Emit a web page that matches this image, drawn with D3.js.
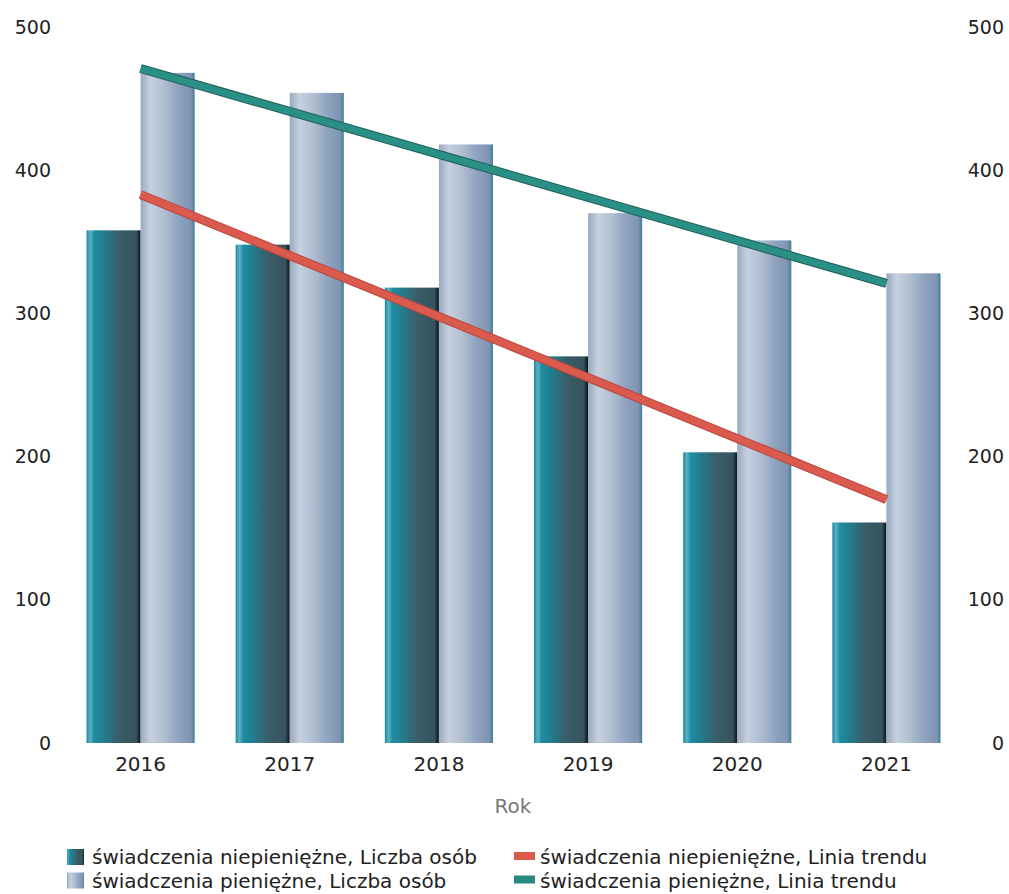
<!DOCTYPE html>
<html>
<head>
<meta charset="utf-8">
<script src="https://cdn.jsdelivr.net/npm/d3@7"></script>
<style>
  html, body { margin: 0; padding: 0; background: #fff; }
  svg { display: block; }
  text { font-family: "DejaVu Sans", sans-serif; fill: #222; }
</style>
</head>
<body>
<svg id="chart" width="1009" height="894"></svg>
<script>
// ---- data ----
const years = ["2016", "2017", "2018", "2019", "2020", "2021"];
const niepieniezne = [358, 348, 318, 270, 203, 154];   // świadczenia niepieniężne, Liczba osób
const pieniezne = [468, 454, 418, 370, 351, 328];      // świadczenia pieniężne, Liczba osób
const trendNiepieniezne = [383, 170];                   // trend at 2016 and 2021
const trendPieniezne = [471, 321];                      // trend at 2016 and 2021
const trendYears = ["2016", "2021"];
const yTicks = [0, 100, 200, 300, 400, 500];
const xTitle = "Rok";
const legendLabels = [
  "świadczenia niepieniężne, Liczba osób",
  "świadczenia pieniężne, Liczba osób",
  "świadczenia niepieniężne, Linia trendu",
  "świadczenia pieniężne, Linia trendu"
];

// ---- layout ----
const FONT = "'DejaVu Sans', sans-serif";
const svg = d3.select("#chart");
const x = d3.scaleBand().domain(years).range([66, 961]).paddingInner(0.275).paddingOuter(0.1375);
const sub = d3.scaleBand().domain(["n", "p"]).range([0, x.bandwidth()]);
const y = d3.scaleLinear().domain([0, 500]).range([743, 27]);

// gradients
const defs = svg.append("defs");
function grad(id, stops) {
  const g = defs.append("linearGradient").attr("id", id).attr("x1", "0").attr("x2", "1").attr("y1", "0").attr("y2", "0");
  stops.forEach(s => g.append("stop").attr("offset", s[0]).attr("stop-color", s[1]));
}
grad("gDark", [[0, "#168aa0"], [0.07, "#5fb0c2"], [0.14, "#1d8da2"], [0.35, "#25798a"], [0.6, "#3a5d68"], [0.92, "#35535e"], [0.96, "#1e3038"], [1, "#111"]]);
grad("gLight", [[0, "#98a9c0"], [0.18, "#c6d0de"], [0.4, "#b4c1d3"], [0.7, "#8fa3bf"], [0.93, "#7e94b3"], [1, "#3f7f9a"]]);

// bars
const g = svg.append("g");
years.forEach((yr, i) => {
  g.append("rect")
    .attr("x", x(yr) + sub("n"))
    .attr("y", y(niepieniezne[i]))
    .attr("width", sub.bandwidth())
    .attr("height", y(0) - y(niepieniezne[i]))
    .attr("fill", "url(#gDark)");
  g.append("rect")
    .attr("x", x(yr) + sub("p"))
    .attr("y", y(pieniezne[i]))
    .attr("width", sub.bandwidth())
    .attr("height", y(0) - y(pieniezne[i]))
    .attr("fill", "url(#gLight)");
});

// trend lines
const cx = yr => x(yr) + x.bandwidth() / 2;
const line = d3.line().x(d => cx(d[0])).y(d => y(d[1]));
function trend(vals, color, edge) {
  const pts = trendYears.map((t, i) => [t, vals[i]]);
  svg.append("path").attr("d", line(pts)).attr("stroke", edge).attr("stroke-width", 9).attr("fill", "none");
  svg.append("path").attr("d", line(pts)).attr("stroke", color).attr("stroke-width", 7).attr("fill", "none");
}
trend(trendPieniezne, "#2a8f84", "#1f5e58");
trend(trendNiepieniezne, "#db5a4e", "#b8453d");

// y axes (labels only)
const yl = svg.append("g");
yTicks.forEach(t => {
  yl.append("text").attr("x", 51).attr("y", y(t)).attr("dy", "0.35em")
    .attr("text-anchor", "end").attr("font-size", 19).text(t);
  yl.append("text").attr("x", 1004).attr("y", y(t)).attr("dy", "0.35em")
    .attr("text-anchor", "end").attr("font-size", 19).text(t);
});

// x axis labels
const xa = svg.append("g").attr("transform", "translate(0,743)")
  .call(d3.axisBottom(x).tickSize(0).tickPadding(14));
xa.select(".domain").remove();
xa.selectAll("text").attr("font-size", 20).attr("font-family", FONT).attr("fill", "#222");

svg.append("text").attr("x", 513).attr("y", 813).attr("text-anchor", "middle")
  .attr("font-size", 20).style("fill", "#777").text(xTitle);

// legend
const lg = svg.append("g");
const rows = [
  {lx: 67, cy: 857, type: "bar", fill: "url(#gDark)", label: legendLabels[0]},
  {lx: 67, cy: 880.5, type: "bar", fill: "url(#gLight)", label: legendLabels[1]},
  {lx: 514, cy: 857, type: "line", fill: "#db5a4e", label: legendLabels[2]},
  {lx: 514, cy: 880.5, type: "line", fill: "#2a8a80", label: legendLabels[3]}
];
rows.forEach(r => {
  if (r.type === "bar") {
    lg.append("rect").attr("x", r.lx).attr("y", r.cy - 8).attr("width", 17).attr("height", 16).attr("fill", r.fill);
    lg.append("text").attr("x", r.lx + 25).attr("y", r.cy).attr("dy", "0.35em")
      .attr("font-size", 20).text(r.label);
  } else {
    lg.append("rect").attr("x", r.lx).attr("y", r.cy - 5).attr("width", 21).attr("height", 8).attr("fill", r.fill);
    lg.append("text").attr("x", r.lx + 26).attr("y", r.cy).attr("dy", "0.35em")
      .attr("font-size", 20).text(r.label);
  }
});
</script>
</body>
</html>
